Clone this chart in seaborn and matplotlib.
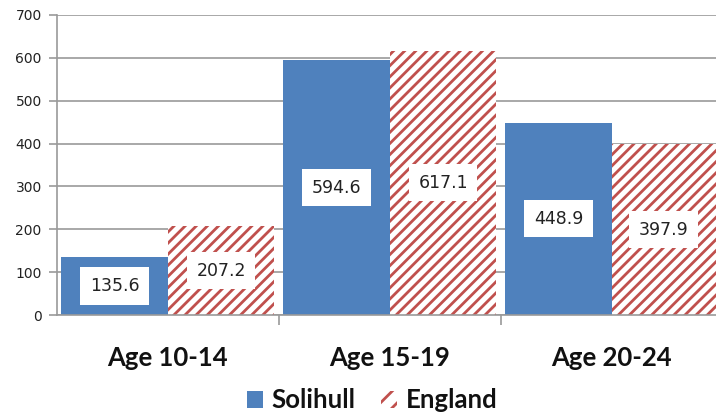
import pandas as pd
import matplotlib.pyplot as plt
import matplotlib.patches as mpatches
import seaborn as sns

# Dane
ages = ["Age 10-14", "Age 15-19", "Age 20-24"]
solihull = [135.6, 594.6, 448.9]
england = [207.2, 617.1, 397.9]
areas = ["Solihull", "England"]

df = pd.DataFrame({
    "age": ages * 2,
    "area": ["Solihull"] * 3 + ["England"] * 3,
    "value": solihull + england,
})

blue = "#4F81BD"
red = "#C0504D"
grid = "#9A9A9A"

sns.set_style("white")
plt.rcParams["font.family"] = ["DejaVu Sans"]
plt.rcParams["hatch.linewidth"] = 2.0

fig = plt.figure(figsize=(7.16, 4.12), dpi=100)
ax = fig.add_axes([0.0796, 0.2354, 0.9204, 0.7282])

sns.barplot(data=df, x="age", y="value", hue="area", hue_order=areas,
            palette=[blue, red], width=0.96, gap=0, saturation=1,
            ax=ax, legend=False, zorder=2)

# Kreskowanie dla Anglii
for p in ax.containers[1]:
    p.set_facecolor("white")
    p.set_edgecolor(red)
    p.set_hatch("///")
    p.set_linewidth(0)
for p in ax.containers[0]:
    p.set_linewidth(0)

# Etykiety w białych ramkach
for cont, vals in zip(ax.containers, [solihull, england]):
    ax.bar_label(cont, labels=[f"{v:.1f}" for v in vals], label_type="center",
                 fontsize=12.5, color="#222222",
                 bbox=dict(facecolor="white", edgecolor="none", boxstyle="square,pad=0.55"))

ax.set_ylim(0, 700)
ax.set_xlim(-0.5, 2.47)
ax.set_yticks(range(0, 701, 100))
ax.yaxis.grid(True, color=grid, linewidth=1.2, zorder=0)
ax.set_axisbelow(True)
ax.set_xlabel("")
ax.set_ylabel("")

for s in ["top", "right"]:
    ax.spines[s].set_visible(False)
for s in ["left", "bottom"]:
    ax.spines[s].set_color(grid)
    ax.spines[s].set_linewidth(1.2)

ax.tick_params(axis="y", which="major", left=True, length=6, color=grid, width=1.2,
               labelsize=10, labelcolor="#222222", pad=5)
ax.tick_params(axis="x", which="major", length=0, pad=22)
ax.set_xticks([0.5, 1.5], minor=True)
ax.tick_params(axis="x", which="minor", bottom=True, length=7, color=grid, width=1.2)
for lbl in ax.get_xticklabels():
    lbl.set_fontfamily("Lato")
    lbl.set_fontweight("bold")
    lbl.set_fontsize(18.5)
    lbl.set_color("#111111")

handles = [
    mpatches.Patch(facecolor=blue, edgecolor="none", label="Solihull"),
    mpatches.Patch(facecolor="white", edgecolor=red, hatch="//", linewidth=0, label="England"),
]
fig.legend(handles=handles, loc="lower center", bbox_to_anchor=(0.52, -0.057), ncol=2,
           frameon=False, prop={"family": "Lato", "size": 18.5, "weight": "bold"},
           handlelength=0.62, handleheight=0.62, handletextpad=0.35, columnspacing=1.0,
           labelcolor="#111111")

fig.savefig("out.png", dpi=100)
